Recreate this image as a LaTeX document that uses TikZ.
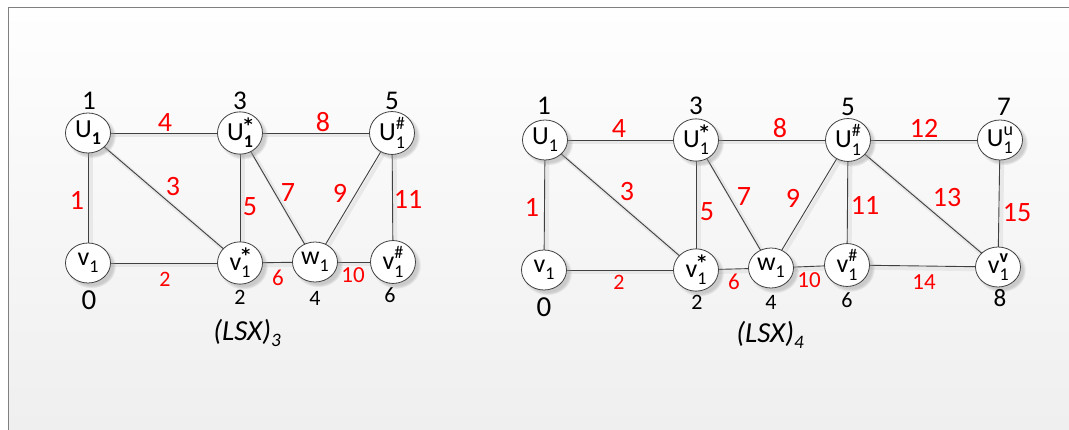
\documentclass[tikz,border=0pt]{standalone}
\usepackage{fontspec}
\setmainfont{Carlito}
\newfontfamily\astfont{DejaVu Sans}
\usetikzlibrary{shadows,shapes.geometric}
\pgfdeclarelayer{back}
\pgfdeclarelayer{edges}
\pgfsetlayers{back,edges,main}
\definecolor{edgec}{HTML}{404040}
\definecolor{framec}{HTML}{808080}
\definecolor{bgtop}{HTML}{FEFEFE}
\definecolor{bgbot}{HTML}{EFEFEF}
\newcommand\nss[3]{#1\rlap{\raisebox{-0.28em}{\fontsize{18}{18}\selectfont #3}}\raisebox{0.42em}{\fontsize{18}{18}\selectfont #2}}
\newcommand\nsb[2]{#1\raisebox{-0.28em}{\fontsize{18}{18}\selectfont #2}}
\newcommand\bigast{\raisebox{-0.05em}{\fontsize{17}{17}\astfont\bfseries *}}
\tikzset{
  x=1pt, y=-1pt,
  vtx/.style={ellipse, draw=edgec, line width=0.8pt, fill=white,
    minimum width=45pt, minimum height=40pt, inner sep=0pt,
    font=\fontsize{26}{26}\selectfont,
    circular drop shadow={shadow xshift=3pt, shadow yshift=-3pt, fill=black!40, opacity=0.45}},
  edge/.style={draw=edgec, line width=0.9pt},
  eshadow/.style={draw=black!9, line width=4pt},
  wlab/.style={text=red, font=\fontsize{28}{28}\selectfont, inner sep=0pt},
  nbig/.style={text=black, font=\fontsize{27}{27}\selectfont, inner sep=0pt},
  nsmall/.style={text=black, font=\fontsize{22}{22}\selectfont, inner sep=0pt},
  capt/.style={font=\fontsize{29}{29}\selectfont\itshape, inner sep=0pt},
}
\begin{document}
\begin{tikzpicture}
\useasboundingbox (0,0) rectangle (1069,430);
\begin{pgfonlayer}{back}
\shade[top color=bgtop, bottom color=bgbot] (8,8) rectangle (1069,430);
\draw[framec, line width=1pt] (8,430) -- (8,8) -- (1069,8);
\end{pgfonlayer}

% ---------- left graph (LSX)_3 ----------
\node[vtx] (aU)  at (88,133)  {\nsb{U}{\textbf{1}}};
\node[vtx] (aUs) at (240,133) {\nss{U}{\bigast}{\textbf{1}}};
\node[vtx] (aUh) at (392,133) {\nss{U}{\#}{1}};
\node[vtx] (av)  at (88,263)  {\nsb{v}{1}};
\node[vtx] (avs) at (240,263) {\nss{v}{\bigast}{1}};
\node[vtx] (aw)  at (315,262) {\nsb{w}{1}};
\node[vtx] (avh) at (393,262) {\nss{v}{\#}{1}};

\begin{pgfonlayer}{edges}
\foreach \a/\b in {aU/aUs,aUs/aUh,aU/av,aU/avs,aUs/avs,aUs/aw,aUh/aw,aUh/avh,av/avs,avs/aw,aw/avh}{
  \draw[eshadow] ([shift={(2.5,2.5)}]\a.center) -- ([shift={(2.5,2.5)}]\b.center);
}
\foreach \a/\b in {aU/aUs,aUs/aUh,aU/av,aU/avs,aUs/avs,aUs/aw,aUh/aw,aUh/avh,av/avs,avs/aw,aw/avh}{
  \draw[edge] (\a.center) -- (\b.center);
}
\end{pgfonlayer}

\node[nbig] (an1) at (89,101) {1};
\node[nbig] (an3) at (240,101) {3};
\node[nbig] (an5) at (392,101) {5};
\node[nbig, font=\fontsize{29}{29}\selectfont] (an0) at (89,300) {0};
\node[nsmall] (an2) at (240,297) {2};
\node[nsmall] (an4) at (315,298) {4};
\node[nsmall] (an6) at (390,295) {6};

\node[wlab] (aw4)  at (165,123) {4};
\node[wlab] (aw8)  at (323,122) {8};
\node[wlab] (aw1)  at (77,200)  {1};
\node[wlab] (aw3)  at (173,187) {3};
\node[wlab] (aw5)  at (250,207) {5};
\node[wlab] (aw7)  at (288,193) {7};
\node[wlab] (aw9)  at (340,193) {9};
\node[wlab] (aw11) at (408,199) {11};
\node[wlab, font=\fontsize{22}{22}\selectfont] (aw2)  at (165,279) {2};
\node[wlab, font=\fontsize{23}{23}\selectfont] (aw6)  at (278,278) {6};
\node[wlab, font=\fontsize{23}{23}\selectfont] (aw10) at (353,275) {10};

\node[capt] (acap) at (247,333) {(LSX)\raisebox{-0.2em}{\fontsize{19}{19}\selectfont 3}};

% ---------- right graph (LSX)_4 ----------
\node[vtx] (bU)  at (545,140)  {\nsb{U}{1}};
\node[vtx] (bUs) at (696,140)  {\nss{U}{\bigast}{1}};
\node[vtx] (bUh) at (848,140)  {\nss{U}{\#}{1}};
\node[vtx] (bUu) at (1000,140) {\nss{U}{u}{1}};
\node[vtx] (bv)  at (544,270)  {\nsb{v}{1}};
\node[vtx] (bvs) at (696,270)  {\nss{v}{\bigast}{1}};
\node[vtx] (bw)  at (771,268)  {\nsb{w}{1}};
\node[vtx] (bvh) at (847,265)  {\nss{v}{\#}{1}};
\node[vtx] (bvv) at (998,267)  {\nss{v}{\textbf{v}}{1}};

\begin{pgfonlayer}{edges}
\foreach \a/\b in {bU/bUs,bUs/bUh,bUh/bUu,bU/bv,bU/bvs,bUs/bvs,bUs/bw,bUh/bw,bUh/bvh,bUh/bvv,bUu/bvv,bv/bvs,bvs/bw,bw/bvh,bvh/bvv}{
  \draw[eshadow] ([shift={(2.5,2.5)}]\a.center) -- ([shift={(2.5,2.5)}]\b.center);
}
\foreach \a/\b in {bU/bUs,bUs/bUh,bUh/bUu,bU/bv,bU/bvs,bUs/bvs,bUs/bw,bUh/bw,bUh/bvh,bUh/bvv,bUu/bvv,bv/bvs,bvs/bw,bw/bvh,bvh/bvv}{
  \draw[edge] (\a.center) -- (\b.center);
}
\end{pgfonlayer}

\node[nbig] (bn1) at (544,106) {1};
\node[nbig] (bn3) at (696,106) {3};
\node[nbig] (bn5) at (848,107) {5};
\node[nbig] (bn7) at (1004,107) {7};
\node[nbig, font=\fontsize{29}{29}\selectfont] (bn0) at (544,307) {0};
\node[nsmall] (bn2) at (697,302) {2};
\node[nsmall] (bn4) at (771,302) {4};
\node[nsmall] (bn6) at (847,300) {6};
\node[nsmall, font=\fontsize{25}{25}\selectfont] (bn8) at (1000,298) {8};

\node[wlab] (bw4)  at (619,129) {4};
\node[wlab] (bw8)  at (780,128) {8};
\node[wlab] (bw12) at (924,128) {12};
\node[wlab] (bw1)  at (532,207) {1};
\node[wlab] (bw3)  at (627,192) {3};
\node[wlab] (bw5)  at (707,212) {5};
\node[wlab] (bw7)  at (744,197) {7};
\node[wlab] (bw9)  at (793,198) {9};
\node[wlab] (bw11) at (865,205) {11};
\node[wlab] (bw13) at (947,198) {13};
\node[wlab] (bw15) at (1017,213) {15};
\node[wlab, font=\fontsize{22}{22}\selectfont] (bw2)  at (619,282) {2};
\node[wlab, font=\fontsize{23}{23}\selectfont] (bw6)  at (734,282) {6};
\node[wlab, font=\fontsize{23}{23}\selectfont] (bw10) at (809,280) {10};
\node[wlab, font=\fontsize{23}{23}\selectfont] (bw14) at (924,282) {14};

\node[capt] (bcap) at (770,335) {(LSX)\raisebox{-0.2em}{\fontsize{19}{19}\selectfont 4}};
\end{tikzpicture}
\end{document}
